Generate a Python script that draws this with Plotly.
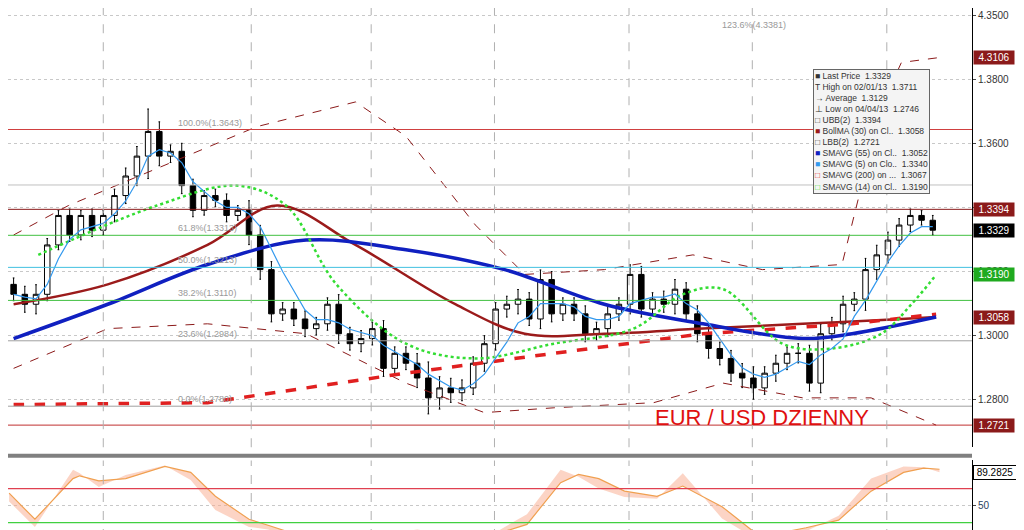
import plotly.graph_objects as go
from plotly.subplots import make_subplots

# daily closes, EUR/USD
closes = [1.3129, 1.3098, 1.3129, 1.3283, 1.3375, 1.3314, 1.3375, 1.3329, 1.3375, 1.3437,
          1.3498, 1.3560, 1.3637, 1.3560, 1.3575, 1.3468, 1.3391, 1.3437, 1.3422, 1.3375,
          1.3391, 1.3314, 1.3206, 1.3068, 1.3083, 1.3052, 1.3022, 1.3037, 1.3098, 1.3006,
          1.2975, 1.2991, 1.3022, 1.2898, 1.2945, 1.2914, 1.2868, 1.2806, 1.2837, 1.2822,
          1.2837, 1.2914, 1.2975, 1.3083, 1.3098, 1.3114, 1.3052, 1.3175, 1.3068, 1.3098,
          1.3068, 1.3006, 1.3022, 1.3068, 1.3098, 1.3191, 1.3083, 1.3114, 1.3098, 1.3145,
          1.3068, 1.3006, 1.2960, 1.2929, 1.2883, 1.2868, 1.2837, 1.2883, 1.2914, 1.2945,
          1.2945, 1.2852, 1.3006, 1.3037, 1.3098, 1.3114, 1.3206, 1.3252, 1.3298, 1.3345,
          1.3375, 1.3360, 1.3329]
opens = [1.3160] + closes[:-1]
wick = [0.0020, 0.0025, 0.0030, 0.0020, 0.0015, 0.0020, 0.0015, 0.0020, 0.0015, 0.0020,
        0.0025, 0.0030, 0.0070, 0.0030, 0.0020, 0.0025, 0.0020, 0.0015, 0.0020, 0.0020,
        0.0015, 0.0030, 0.0030, 0.0025, 0.0020, 0.0020, 0.0025, 0.0020, 0.0020, 0.0030,
        0.0020, 0.0025, 0.0020, 0.0025, 0.0020, 0.0020, 0.0030, 0.0050, 0.0035, 0.0030,
        0.0025, 0.0020, 0.0025, 0.0020, 0.0025, 0.0030, 0.0020, 0.0030, 0.0025, 0.0020,
        0.0020, 0.0025, 0.0020, 0.0025, 0.0020, 0.0030, 0.0025, 0.0020, 0.0025, 0.0030,
        0.0020, 0.0025, 0.0030, 0.0020, 0.0025, 0.0030, 0.0035, 0.0020, 0.0025, 0.0020,
        0.0030, 0.0025, 0.0030, 0.0020, 0.0025, 0.0020, 0.0035, 0.0030, 0.0025, 0.0020,
        0.0020, 0.0015, 0.0015]
highs = [max(o, c) + w for o, c, w in zip(opens, closes, wick)]
lows = [min(o, c) - w for o, c, w in zip(opens, closes, wick)]
idx = list(range(len(closes)))

# overlays read at sparse candle positions
sma55_x = [0, 8.4, 17.3, 26.1, 35, 43.8, 52.7, 61.5, 70.4, 74.8, 82.3]
sma55_y = [1.2991, 1.3098, 1.3222, 1.3298, 1.3268, 1.3206, 1.3098, 1.3037, 1.2991, 1.3006, 1.3058]
sma200_x = [0, 17.3, 26.1, 35, 48.2, 61.5, 74.8, 82.3]
sma200_y = [1.2785, 1.2791, 1.2837, 1.2883, 1.2945, 1.3006, 1.3037, 1.3067]
bollma_x = [0, 8.4, 17.3, 23.5, 30.5, 39.4, 45.6, 52.7, 61.5, 70.4, 79.2, 82.3]
bollma_y = [1.3098, 1.3160, 1.3283, 1.3406, 1.3283, 1.3098, 1.3006, 1.3006, 1.3022, 1.3037, 1.3052, 1.3058]
ubb_x = [0, 4.9, 21.7, 30.5, 35, 41.2, 45.6, 52.7, 60.6, 66.8, 73.9, 77.4, 79.2, 82.7]
ubb_y = [1.3314, 1.3406, 1.3652, 1.3729, 1.3622, 1.3345, 1.3191, 1.3206, 1.3252, 1.3206, 1.3222, 1.3714, 1.3852, 1.3868]
lbb_x = [0, 8.4, 17.3, 26.1, 35, 42, 48.2, 57.1, 63.3, 70.4, 76.5, 82.3]
lbb_y = [1.2898, 1.3022, 1.3037, 1.3006, 1.2852, 1.2760, 1.2775, 1.2791, 1.2852, 1.2806, 1.2806, 1.2721]
sma14_x = [2.2, 12.8, 19.9, 24.3, 28.8, 35, 41.2, 48.2, 55.3, 59.7, 63.3, 68.6, 73, 77.4, 80.1, 82.3]
sma14_y = [1.3252, 1.3406, 1.3468, 1.3406, 1.3160, 1.2975, 1.2929, 1.2975, 1.3022, 1.3129, 1.3145, 1.2975, 1.2960, 1.3006, 1.3098, 1.3190]
sma5_y = [1.3129, 1.3120, 1.3115, 1.3160, 1.3240, 1.3300, 1.3330, 1.3340, 1.3350, 1.3380,
          1.3420, 1.3480, 1.3560, 1.3580, 1.3570, 1.3540, 1.3480, 1.3450, 1.3420, 1.3400,
          1.3400, 1.3380, 1.3340, 1.3270, 1.3200, 1.3140, 1.3080, 1.3050, 1.3050, 1.3040,
          1.3020, 1.3010, 1.3000, 1.2970, 1.2950, 1.2930, 1.2910, 1.2880, 1.2860, 1.2840,
          1.2830, 1.2850, 1.2880, 1.2930, 1.2980, 1.3040, 1.3060, 1.3100, 1.3100, 1.3100,
          1.3090, 1.3060, 1.3050, 1.3050, 1.3060, 1.3100, 1.3110, 1.3120, 1.3120, 1.3130,
          1.3100, 1.3080, 1.3040, 1.2990, 1.2940, 1.2900, 1.2880, 1.2870, 1.2880, 1.2900,
          1.2920, 1.2910, 1.2940, 1.2960, 1.2990, 1.3060, 1.3110, 1.3170, 1.3230, 1.3280,
          1.3320, 1.3340, 1.3340]

# fibonacci levels
fib_levels = [1.3643, 1.3313, 1.3213, 1.3110, 1.2984, 1.2780]
fib_labels = ["100.0%(1.3643)", "61.8%(1.3313)", "50.0%(1.3213)", "38.2%(1.3110)", "23.6%(1.2984)", "0.0%(1.2780)"]
fib_colors = ["#d04040", "#40c040", "#40c0e0", "#40c040", "#a0a0a0", "#a0a0a0"]

# stochastic panel
stoch_x = [-0.4, 1.9, 5.3, 5.9, 7.6, 10, 13.5, 15.8, 18, 21, 22.7, 25.6, 31.3, 36, 40, 42.9, 45.8,
           48.8, 50.4, 52.2, 54.5, 57.4, 59.7, 63.2, 66.6, 70.7, 73.6, 76.5, 79.4, 81.2, 82.6]
stoch_slow = [64.6, 34, 81.7, 85, 79, 81.7, 96, 89, 61, 34, 27, 14.6, 14.6, 18, 16, 16, 28,
              77, 86.6, 81.7, 67, 61, 73, 48.8, 13.4, 24, 33, 67, 89, 94, 92.7]
stoch_fast = [55, 25, 92, 88, 72, 86, 97, 80, 45, 25, 22, 10, 12, 22, 14, 18, 40,
              92, 84, 70, 60, 58, 88, 35, 8, 20, 38, 82, 96, 95, 89.3]

price_ticks = [1.28, 1.30, 1.32, 1.34, 1.36, 1.38, 1.40]
price_tick_text = ["1.2800", "1.3000", "1.3200", "1.3400", "1.3600", "1.3800", "4.3500"]
date_grid = [8, 21.2, 31.9, 42.9, 54.9, 65.9, 77.9]

tags = [(1.3868, "4.3106", "#8b1a1a"), (1.3394, "1.3394", "#8b1a1a"), (1.3329, "1.3329", "black"),
        (1.3190, "1.3190", "#1faa1f"), (1.3058, "1.3058", "#8b1a1a"), (1.2721, "1.2721", "#8b1a1a")]

fig = make_subplots(rows=2, cols=1, shared_xaxes=True, row_heights=[0.85, 0.15], vertical_spacing=0.025)

fig.add_trace(go.Scatter(x=ubb_x, y=ubb_y, mode="lines", line=dict(color="#8b1a1a", width=1, dash="dash")), 1, 1)
fig.add_trace(go.Scatter(x=lbb_x, y=lbb_y, mode="lines", line=dict(color="#8b1a1a", width=1, dash="dash")), 1, 1)
fig.add_trace(go.Scatter(x=bollma_x, y=bollma_y, mode="lines", line=dict(color="#9b1b1b", width=2.5, shape="spline")), 1, 1)
fig.add_trace(go.Scatter(x=sma200_x, y=sma200_y, mode="lines", line=dict(color="#e02020", width=3.5, dash="dash")), 1, 1)
fig.add_trace(go.Scatter(x=sma55_x, y=sma55_y, mode="lines", line=dict(color="#1020c0", width=3.5, shape="spline")), 1, 1)
fig.add_trace(go.Scatter(x=sma14_x, y=sma14_y, mode="lines", line=dict(color="#33dd33", width=2.5, dash="dot", shape="spline")), 1, 1)
fig.add_trace(go.Candlestick(x=idx, open=opens, high=highs, low=lows, close=closes,
                             increasing=dict(line=dict(color="black", width=1), fillcolor="white"),
                             decreasing=dict(line=dict(color="black", width=1), fillcolor="black"),
                             whiskerwidth=0.3), 1, 1)
fig.add_trace(go.Scatter(x=idx, y=sma5_y, mode="lines", line=dict(color="#3399ee", width=1.2)), 1, 1)

fig.add_trace(go.Scatter(x=stoch_x, y=stoch_slow, mode="lines", line=dict(color="#f0a050", width=1.2)), 2, 1)
fig.add_trace(go.Scatter(x=stoch_x, y=stoch_fast, mode="lines", line=dict(color="rgba(200,200,200,0.4)", width=0),
                         fill="tonexty", fillcolor="rgba(250,170,140,0.5)"), 2, 1)

for lvl, lab, col in zip(fib_levels, fib_labels, fib_colors):
    fig.add_hline(y=lvl, line=dict(color=col, width=1), row=1, col=1)
fig.add_hline(y=1.3394, line=dict(color="#8b1a1a", width=1), row=1, col=1)
fig.add_hline(y=1.2721, line=dict(color="#c03030", width=1), row=1, col=1)
fig.add_hline(y=1.3470, line=dict(color="#c0c0c0", width=1), row=1, col=1)
fig.add_hline(y=70, line=dict(color="#e04050", width=1.2), row=2, col=1)
fig.add_hline(y=30, line=dict(color="#40d040", width=1.2), row=2, col=1)

for lvl, lab, col in zip(fib_levels, fib_labels, fib_colors):
    fig.add_annotation(x=14.5, y=lvl, text=lab, showarrow=False, xanchor="left", yanchor="bottom",
                       font=dict(size=9, color="#999999"), row=1, col=1)
fig.add_annotation(x=63, y=1.3968, text="123.6%(4.3381)", showarrow=False, xanchor="left",
                   font=dict(size=9, color="#999999"), row=1, col=1)

for v in date_grid:
    fig.add_vline(x=v, line=dict(color="#b0b0b0", width=1, dash="dash"))

for val, txt, col in tags:
    fig.add_annotation(x=1.0, xref="paper", y=val, yref="y", text=txt, showarrow=False, xanchor="left",
                       xshift=1, bgcolor=col, font=dict(size=10, color="white"), width=38, borderpad=1)
fig.add_annotation(x=1.0, xref="paper", y=89.3, yref="y2", text="89.2825", showarrow=False, xanchor="left",
                   xshift=1, bgcolor="white", bordercolor="black", font=dict(size=10, color="black"), width=40)

fig.add_annotation(x=57, y=1.2745, text="EUR / USD DZIENNY", showarrow=False, xanchor="left",
                   font=dict(size=22, color="#e01010", family="Liberation Sans"), row=1, col=1)

legend_text = ("■ Last Price  1.3329<br>T High on 02/01/13  1.3711<br>→ Average  1.3129<br>"
               "⊥ Low on 04/04/13  1.2746<br>□ UBB(2)  1.3394<br><span style='color:#9b1b1b'>■</span> BollMA (30) on Cl..  1.3058<br>"
               "□ LBB(2)  1.2721<br><span style='color:#1020c0'>■</span> SMAVG (55) on Cl..  1.3052<br>"
               "<span style='color:#3399ee'>■</span> SMAVG (5) on Clo..  1.3340<br><span style='color:#e02020'>□</span> SMAVG (200) on ...  1.3067<br>"
               "<span style='color:#33dd33'>□</span> SMAVG (14) on Cl..  1.3190")
fig.add_annotation(x=0.835, xref="paper", y=0.885, yref="paper", text=legend_text, showarrow=False,
                   xanchor="left", yanchor="top", align="left", bgcolor="#f4f4f4", bordercolor="#666666",
                   borderwidth=1, font=dict(size=8.5, color="#333333"))

fig.update_layout(width=1010, height=530, margin=dict(l=0, r=46, t=0, b=0), showlegend=False,
                  plot_bgcolor="white", paper_bgcolor="white", font=dict(family="Liberation Sans"))
fig.update_xaxes(range=[-0.5, 85.5], showgrid=False, showticklabels=False, rangeslider_visible=False,
                 showline=False, zeroline=False)
fig.update_yaxes(side="right", range=[1.2652, 1.4022], tickvals=price_ticks, ticktext=price_tick_text,
                 gridcolor="#c8c8c8", griddash="dot", showline=True, linecolor="black", ticks="outside",
                 ticklen=3, tickfont=dict(size=10, color="#333333"), row=1, col=1)
fig.update_yaxes(side="right", range=[12, 103], tickvals=[50], gridcolor="#c8c8c8", griddash="dot",
                 showline=True, linecolor="black", ticks="outside", ticklen=3, tickfont=dict(size=10), row=2, col=1)
fig.add_shape(type="line", xref="paper", yref="paper", x0=0, x1=1, y0=0.155, y1=0.155,
              line=dict(color="#808080", width=4))

fig.write_html("out.html")
